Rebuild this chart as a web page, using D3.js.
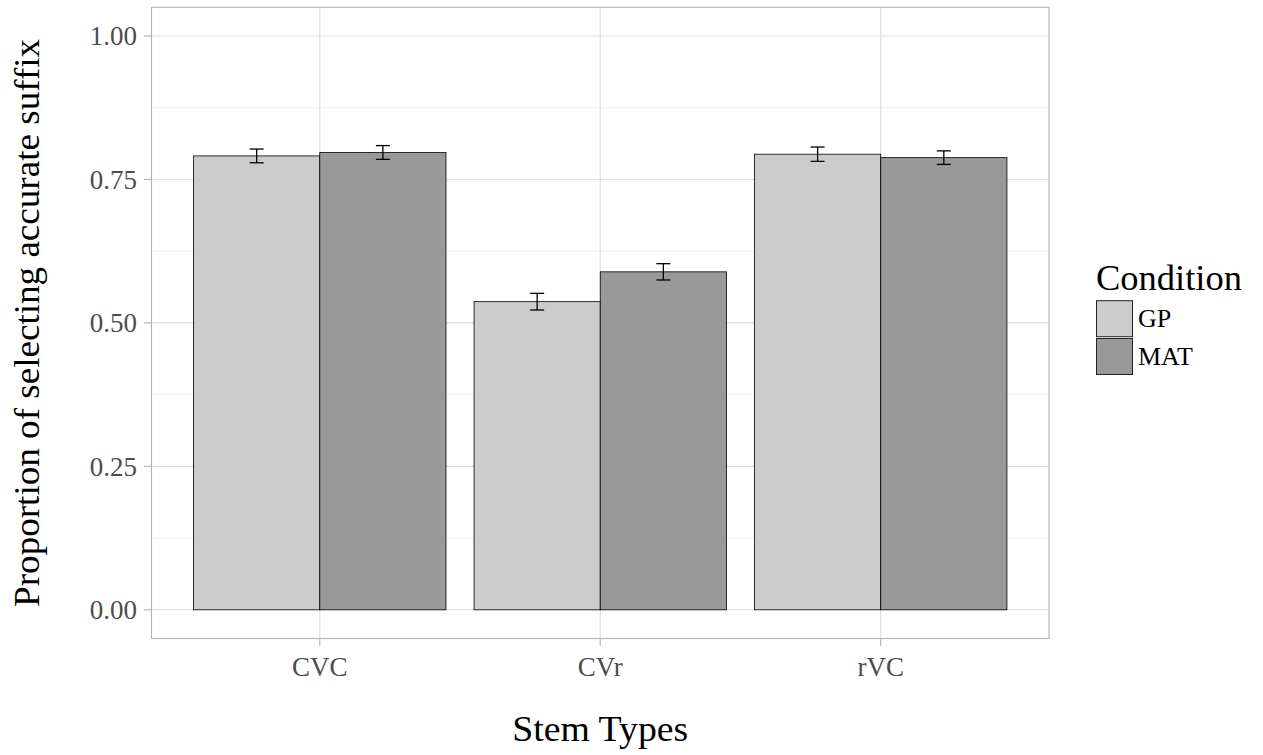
<!DOCTYPE html>
<html><head><meta charset="utf-8">
<script src="https://cdn.jsdelivr.net/npm/d3@7"></script>
<style>body{margin:0;background:#fff}svg{display:block}text{font-family:"Liberation Serif","Times New Roman",serif}</style>
</head><body><svg id="c" width="1263" height="755"></svg>
<script>
const categories = ["CVC", "CVr", "rVC"];
const conditions = ["GP", "MAT"];
const gpValues = [0.791, 0.537, 0.794];
const matValues = [0.797, 0.589, 0.788];
const gpErr = [0.012, 0.0145, 0.0125];
const matErr = [0.012, 0.0142, 0.0118];
const yTicks = [0, 0.25, 0.5, 0.75, 1.0];
const yTickLabels = ["0.00", "0.25", "0.50", "0.75", "1.00"];
const yMinor = [0.125, 0.375, 0.625, 0.875];
const colors = {GP: "#cccccc", MAT: "#999999"};

const rows = [];
categories.forEach((c, i) => {
  rows.push({cat: c, cond: "GP", v: gpValues[i], e: gpErr[i]});
  rows.push({cat: c, cond: "MAT", v: matValues[i], e: matErr[i]});
});

const svg = d3.select("#c");
const L = 151.5, R = 1049, T = 7.3, B = 638.5;
const y = d3.scaleLinear().domain([-0.05, 1.05]).range([B, T]);
const x = d3.scaleBand().domain(categories).range([L, R]).paddingInner(0.1).paddingOuter(0.15);
const xi = d3.scaleBand().domain(conditions).range([0, x.bandwidth()]);

// grid
const g = svg.append("g");
g.selectAll(".mn").data(yMinor).join("line")
  .attr("x1", L).attr("x2", R).attr("y1", d => y(d)).attr("y2", d => y(d))
  .attr("stroke", "#ebebeb").attr("stroke-width", 0.8);
g.selectAll(".mj").data(yTicks).join("line")
  .attr("x1", L).attr("x2", R).attr("y1", d => y(d)).attr("y2", d => y(d))
  .attr("stroke", "#dedede").attr("stroke-width", 1.1);
g.selectAll(".vx").data(categories).join("line")
  .attr("x1", d => x(d) + x.bandwidth() / 2).attr("x2", d => x(d) + x.bandwidth() / 2)
  .attr("y1", T).attr("y2", B)
  .attr("stroke", "#dedede").attr("stroke-width", 1.1);

// bars
svg.append("g").selectAll("rect").data(rows).join("rect")
  .attr("x", d => x(d.cat) + xi(d.cond))
  .attr("width", xi.bandwidth())
  .attr("y", d => y(d.v))
  .attr("height", d => y(0) - y(d.v))
  .attr("fill", d => colors[d.cond])
  .attr("stroke", "#000").attr("stroke-width", 0.8);

// error bars
const eb = svg.append("g").attr("stroke", "#000").attr("stroke-width", 1.3).attr("fill", "none");
rows.forEach(d => {
  const cx = x(d.cat) + xi(d.cond) + xi.bandwidth() / 2;
  const hw = 7;
  eb.append("line").attr("x1", cx).attr("x2", cx).attr("y1", y(d.v + d.e)).attr("y2", y(d.v - d.e));
  eb.append("line").attr("x1", cx - hw).attr("x2", cx + hw).attr("y1", y(d.v + d.e)).attr("y2", y(d.v + d.e));
  eb.append("line").attr("x1", cx - hw).attr("x2", cx + hw).attr("y1", y(d.v - d.e)).attr("y2", y(d.v - d.e));
});

// panel border
svg.append("rect").attr("x", L).attr("y", T).attr("width", R - L).attr("height", B - T)
  .attr("fill", "none").attr("stroke", "#b3b3b3").attr("stroke-width", 1.1);

// axes ticks
svg.append("g").selectAll("line").data(yTicks).join("line")
  .attr("x1", L - 7.5).attr("x2", L).attr("y1", d => y(d)).attr("y2", d => y(d))
  .attr("stroke", "#b3b3b3").attr("stroke-width", 1.1);
svg.append("g").selectAll("text").data(yTicks).join("text")
  .attr("x", 137).attr("y", d => y(d)).attr("dy", "0.35em")
  .attr("text-anchor", "end").attr("font-size", 27).attr("fill", "#4d4d4d")
  .text((d, i) => yTickLabels[i]);

svg.append("g").selectAll("line").data(categories).join("line")
  .attr("x1", d => x(d) + x.bandwidth() / 2).attr("x2", d => x(d) + x.bandwidth() / 2)
  .attr("y1", B).attr("y2", B + 7.5)
  .attr("stroke", "#b3b3b3").attr("stroke-width", 1.1);
svg.append("g").selectAll("text").data(categories).join("text")
  .attr("x", d => x(d) + x.bandwidth() / 2).attr("y", 676)
  .attr("text-anchor", "middle").attr("font-size", 27).attr("fill", "#4d4d4d")
  .text(d => d);

// titles
svg.append("text").attr("x", (L + R) / 2).attr("y", 741).attr("text-anchor", "middle")
  .attr("font-size", 35).attr("fill", "#000")
  .attr("textLength", 176).attr("lengthAdjust", "spacingAndGlyphs")
  .text("Stem Types");
svg.append("text").attr("transform", `translate(39,${(T + B) / 2}) rotate(-90)`)
  .attr("text-anchor", "middle").attr("font-size", 35).attr("fill", "#000")
  .attr("textLength", 568).attr("lengthAdjust", "spacingAndGlyphs")
  .text("Proportion of selecting accurate suffix");

// legend
const lg = svg.append("g");
lg.append("text").attr("x", 1096).attr("y", 289.5).attr("font-size", 35).attr("fill", "#000")
  .attr("textLength", 146).attr("lengthAdjust", "spacingAndGlyphs")
  .text("Condition");
conditions.forEach((c, i) => {
  const ky = 300.7 + i * 37.8;
  lg.append("rect").attr("x", 1096.5).attr("y", ky).attr("width", 36).attr("height", 36)
    .attr("fill", colors[c]).attr("stroke", "#222").attr("stroke-width", 1);
  lg.append("text").attr("x", 1138).attr("y", ky + 26.5).attr("font-size", 26).attr("fill", "#000").text(c);
});
</script></body></html>
